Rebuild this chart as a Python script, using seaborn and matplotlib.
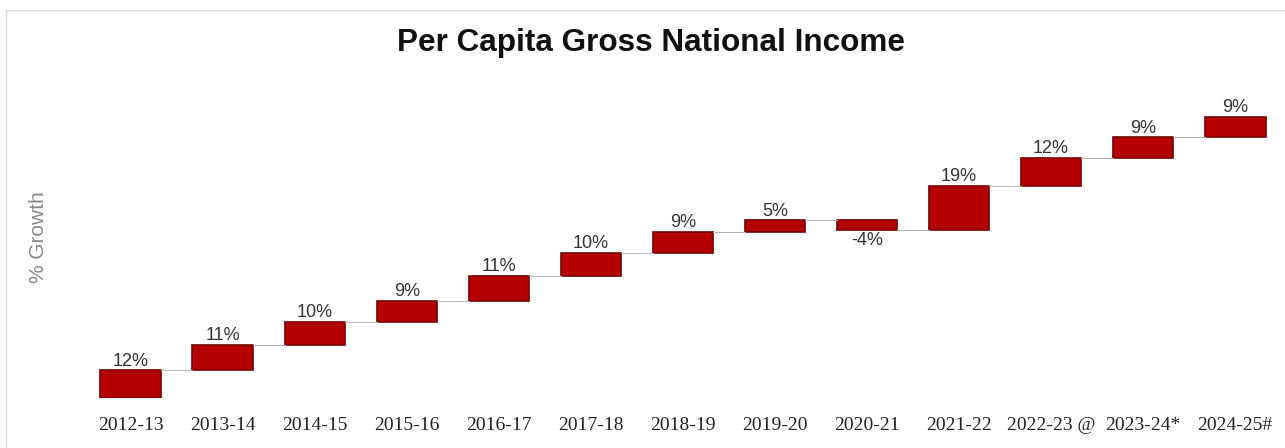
import matplotlib
matplotlib.use("Agg")
import matplotlib.pyplot as plt
import seaborn as sns
import numpy as np
import pandas as pd
from matplotlib.patches import Rectangle

years = ["2012-13", "2013-14", "2014-15", "2015-16", "2016-17", "2017-18",
         "2018-19", "2019-20", "2020-21", "2021-22", "2022-23 @", "2023-24*", "2024-25#"]
growth = [12, 11, 10, 9, 11, 10, 9, 5, -4, 19, 12, 9, 9]
value_labels = [f"{g}%" for g in growth]

sns.set_theme(style="white")
plt.rcParams['font.family'] = ['Liberation Sans', 'DejaVu Sans']

cum = np.cumsum(growth)
starts = cum - np.array(growth)
df = pd.DataFrame({"year": years, "growth": growth})

fig = plt.figure(figsize=(12.85, 4.48), dpi=100)
ax = fig.add_axes([0.066, 0.1116, 0.931, 0.721])

W = 0.66
sns.barplot(data=df, x="year", y="growth", bottom=starts, color="#B50000",
            edgecolor="#750000", linewidth=1.2, width=W, saturation=1, ax=ax)

for i in range(len(growth) - 1):
    ax.plot([i + W / 2, i + 1 - W / 2], [cum[i], cum[i]], color="#b8b8b8", lw=0.8, zorder=1)

for i, (g, lab) in enumerate(zip(growth, value_labels)):
    if g >= 0:
        ax.annotate(lab, (i, cum[i]), xytext=(0, 0.5), textcoords="offset points",
                    ha="center", va="bottom", fontsize=13, color="#333333")
    else:
        ax.annotate(lab, (i, starts[i] + g), xytext=(0, -1.5), textcoords="offset points",
                    ha="center", va="top", fontsize=13, color="#333333")

ax.set_xlim(-0.5, len(years) - 0.5)
ax.set_ylim(0, 140)
ax.set_yticks([])
ax.set_xlabel("")
ax.set_ylabel("")
for s in ax.spines.values():
    s.set_visible(False)
ax.tick_params(axis="x", length=0, pad=14)
for t in ax.get_xticklabels():
    t.set_fontfamily(["Liberation Serif", "DejaVu Serif"])
    t.set_fontsize(14)
    t.set_color("#222222")

fig.text(0.5066, 0.903, "Per Capita Gross National Income", ha="center", va="center",
         fontsize=22.7, fontweight="bold", color="#111111")
fig.text(0.0296, 0.471, "% Growth", rotation=90, ha="center", va="center",
         fontsize=15, color="#888888")

fig.patches.append(Rectangle((6 / 1285, -0.01), 1.02, 0.988, transform=fig.transFigure,
                             fill=False, edgecolor="#dddddd", lw=1))

fig.savefig("out.png", dpi=100)
